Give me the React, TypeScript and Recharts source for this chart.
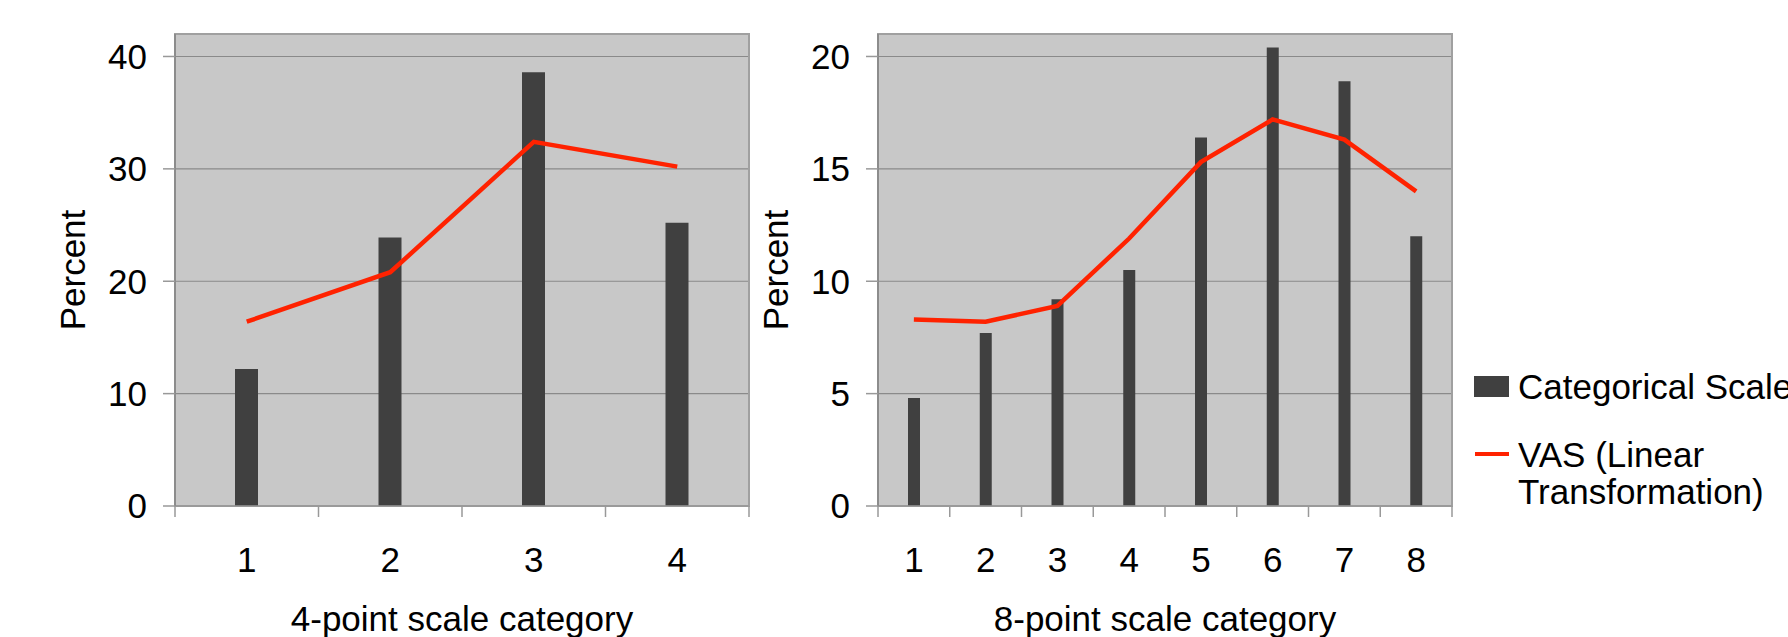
import React from 'react';
import {
  ComposedChart,
  Bar,
  Line,
  XAxis,
  YAxis,
  CartesianGrid,
  ReferenceArea,
  Legend,
  Label,
} from 'recharts';

const FONT = '"Liberation Sans", Arial, Helvetica, sans-serif';

// ---- data ----
const categories4 = ['1', '2', '3', '4'];
const categorical4 = [12.2, 23.9, 38.6, 25.2];
const vas4 = [16.4, 20.8, 32.4, 30.2];

const categories8 = ['1', '2', '3', '4', '5', '6', '7', '8'];
const categorical8 = [4.8, 7.7, 9.2, 10.5, 16.4, 20.4, 18.9, 12.0];
const vas8 = [8.3, 8.2, 8.9, 11.9, 15.3, 17.2, 16.3, 14.0];

const yTicks4 = [0, 10, 20, 30, 40];
const yMax4 = 42;
const yTicks8 = [0, 5, 10, 15, 20];
const yMax8 = 21;

const xTitle4 = '4-point scale category';
const xTitle8 = '8-point scale category';
const yTitle = 'Percent';
const seriesNames = ['Categorical Scale', 'VAS (Linear Transformation)'];

const BAR_COLOR = '#404040';
const LINE_COLOR = '#ff2200';
const AXIS_COLOR = '#999999';

const build = (cats: string[], a: number[], b: number[]) =>
  cats.map((c, i) => ({ name: c, cat: a[i], vas: b[i] }));

const data4 = build(categories4, categorical4, vas4);
const data8 = build(categories8, categorical8, vas8);

const makeXTick = (n: number) => (props: any) => {
  const { x, y, payload, index, width } = props;
  const half = payload && payload.offset ? payload.offset : width / n / 2;
  return (
    <g>
      <line x1={x - half} x2={x - half} y1={y} y2={y + 11} stroke={AXIS_COLOR} strokeWidth={1.5} />
      {index === n - 1 && (
        <line x1={x + half} x2={x + half} y1={y} y2={y + 11} stroke={AXIS_COLOR} strokeWidth={1.5} />
      )}
      <text x={x} y={y + 66} textAnchor="middle" fontSize={35} fontFamily={FONT} fill="#000">
        {payload.value}
      </text>
    </g>
  );
};

const yLabelContent = (props: any) => {
  const vb = props.viewBox || {};
  const cx = vb.x + vb.width - 90;
  const cy = vb.y + vb.height / 2;
  return (
    <text
      x={cx}
      y={cy}
      transform={`rotate(-90 ${cx} ${cy})`}
      textAnchor="middle"
      fontSize={35}
      fontFamily={FONT}
      fill="#000"
    >
      {yTitle}
    </text>
  );
};

const makeXLabel = (title: string) => (props: any) => {
  const vb = props.viewBox || {};
  return (
    <text
      x={vb.x + vb.width / 2}
      y={vb.y + 125}
      textAnchor="middle"
      fontSize={35}
      fontFamily={FONT}
      fill="#000"
    >
      {title}
    </text>
  );
};

const renderLegend = (props: any) => {
  const payload = props && props.payload && props.payload.length ? props.payload : null;
  const barName = payload ? (payload.find((p: any) => p.dataKey === 'cat') || {}).value || seriesNames[0] : seriesNames[0];
  const lineName = payload ? (payload.find((p: any) => p.dataKey === 'vas') || {}).value || seriesNames[1] : seriesNames[1];
  return (
    <div style={{ fontFamily: FONT, fontSize: 35, lineHeight: '33px', color: '#000' }}>
      <div style={{ display: 'flex', alignItems: 'center', whiteSpace: 'nowrap' }}>
        <span style={{ width: 35, height: 21, background: BAR_COLOR, marginRight: 9, flex: 'none' }} />
        <span>{barName}</span>
      </div>
      <div style={{ display: 'flex', alignItems: 'flex-start', marginTop: 33 }}>
        <span
          style={{ width: 34, height: 4, background: LINE_COLOR, marginTop: 16, marginLeft: 1, marginRight: 9, flex: 'none' }}
        />
        <span style={{ width: 260, lineHeight: '37px' }}>{lineName}</span>
      </div>
    </div>
  );
};

type PanelProps = {
  data: any[];
  yTicks: number[];
  yMax: number;
  barSize: number;
  xTitle: string;
  width: number;
  yAxisWidth: number;
  marginRight: number;
  legendLeft?: number;
};

const Panel = ({ data, yTicks, yMax, barSize, xTitle, width, yAxisWidth, marginRight, legendLeft }: PanelProps) => (
  <ComposedChart
    width={width}
    height={637}
    data={data}
    margin={{ top: 34, right: marginRight, left: 0, bottom: 0 }}
    style={{ fontFamily: FONT }}
  >
    <CartesianGrid vertical={false} fill="#c8c8c8" stroke="#8a8a8a" strokeWidth={1.2} />
    <ReferenceArea y1={0} y2={yMax} fill="none" stroke="#a0a0a0" strokeWidth={2} ifOverflow="visible" />
    <XAxis
      dataKey="name"
      height={131}
      interval={0}
      tickLine={false}
      tickSize={0}
      tickMargin={0}
      axisLine={{ stroke: AXIS_COLOR, strokeWidth: 1.5 }}
      tick={makeXTick(data.length)}
    >
      <Label content={makeXLabel(xTitle)} />
    </XAxis>
    <YAxis
      type="number"
      domain={[0, yMax]}
      ticks={yTicks}
      interval={0}
      width={yAxisWidth}
      tickSize={12}
      tickMargin={16}
      tickLine={{ stroke: AXIS_COLOR, strokeWidth: 1.5 }}
      axisLine={{ stroke: '#8c8c8c', strokeWidth: 2 }}
      tick={{ fontSize: 35, fill: '#000', fontFamily: FONT }}
    >
      <Label content={yLabelContent} />
    </YAxis>
    <Bar dataKey="cat" name={seriesNames[0]} fill={BAR_COLOR} barSize={barSize} isAnimationActive={false} />
    <Line
      dataKey="vas"
      name={seriesNames[1]}
      type="linear"
      stroke={LINE_COLOR}
      strokeWidth={4.5}
      dot={false}
      activeDot={false}
      isAnimationActive={false}
    />
    {legendLeft !== undefined && (
      <Legend
        layout="vertical"
        align="center"
        verticalAlign="middle"
        content={renderLegend}
        wrapperStyle={{ left: legendLeft, top: 370, width: 420, margin: 0, padding: 0 }}
      />
    )}
  </ComposedChart>
);

export default function App() {
  return (
    <div
      style={{
        position: 'absolute',
        left: 0,
        top: 0,
        width: 1788,
        height: 637,
        overflow: 'hidden',
        background: '#fff',
        fontFamily: FONT,
      }}
    >
      <div style={{ position: 'absolute', left: 0, top: 0 }}>
        <Panel
          data={data4}
          yTicks={yTicks4}
          yMax={yMax4}
          barSize={23}
          xTitle={xTitle4}
          width={780}
          yAxisWidth={175}
          marginRight={31}
        />
      </div>
      <div style={{ position: 'absolute', left: 700, top: 0 }}>
        <Panel
          data={data8}
          yTicks={yTicks8}
          yMax={yMax8}
          barSize={12}
          xTitle={xTitle8}
          width={1088}
          yAxisWidth={178}
          marginRight={336}
          legendLeft={774}
        />
      </div>
    </div>
  );
}
